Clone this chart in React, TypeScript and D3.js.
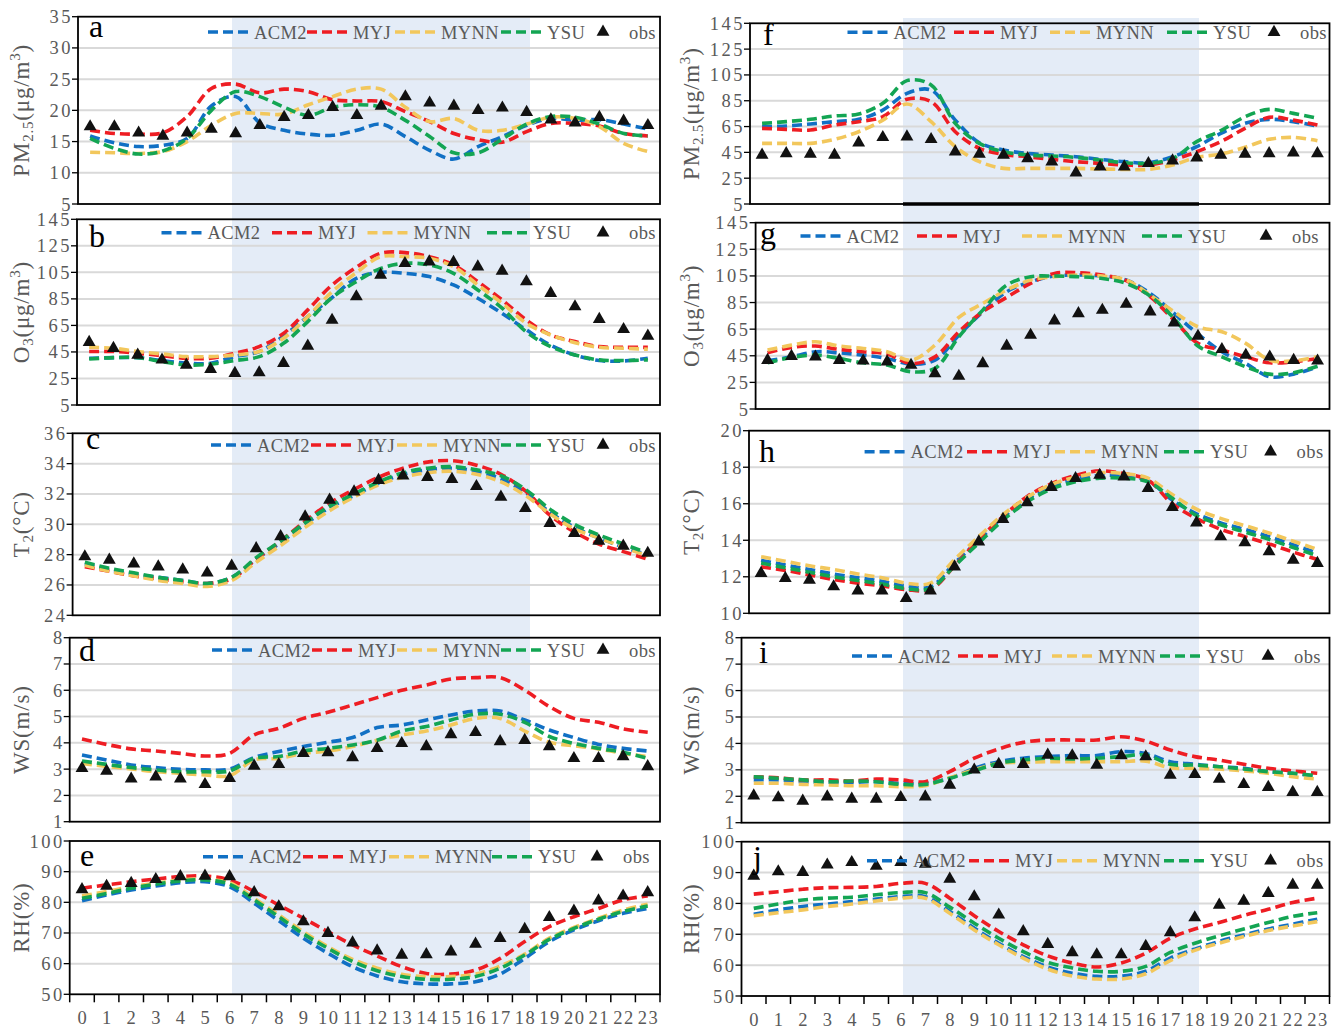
import React from 'react';
import * as d3 from 'd3';

// ---------- categories & ticks ----------
const hours = ['0','1','2','3','4','5','6','7','8','9','10','11','12','13','14','15','16','17','18','19','20','21','22','23'];
const seriesNames = ['ACM2', 'MYJ', 'MYNN', 'YSU'];
const obsName = 'obs';
const panelLetters = ['a','b','c','d','e','f','g','h','i','j'];

const pmTicks = [5, 10, 15, 20, 25, 30, 35];
const o3Ticks = [5, 25, 45, 65, 85, 105, 125, 145];
const t2TicksSummer = [24, 26, 28, 30, 32, 34, 36];
const t2TicksWinter = [10, 12, 14, 16, 18, 20];
const wsTicks = [1, 2, 3, 4, 5, 6, 7, 8];
const rhTicks = [50, 60, 70, 80, 90, 100];

// ---------- panel a: PM2.5 ----------
const aACM2 = [15.9,14.8,14.2,14.4,15.5,20.7,22.2,18.0,16.8,16.2,16.0,16.8,17.8,15.8,13.6,12.2,14.2,15.8,17.6,18.7,18.4,18.5,17.8,17.0];
const aMYJ  = [16.8,16.3,16.2,16.4,19.0,23.5,24.2,22.8,23.4,23.0,21.7,21.5,21.4,19.8,18.2,16.3,15.3,14.9,16.6,17.9,17.9,17.5,16.3,15.9];
const aMYNN = [13.3,13.2,13.1,13.4,15.0,17.6,19.5,19.5,19.4,20.9,22.2,23.4,23.4,20.5,18.2,18.7,16.8,16.8,17.8,18.9,18.7,17.4,14.7,13.4];
const aYSU  = [15.5,13.9,13.0,13.5,15.5,20.0,23.0,22.2,20.5,19.2,20.5,20.9,20.5,18.4,15.8,13.2,13.2,15.4,17.8,19.0,18.9,17.8,16.3,15.9];
const aObs  = [17.4,17.4,16.4,15.9,16.4,17.0,16.3,17.6,18.9,19.2,20.5,19.2,20.7,22.2,21.2,20.7,20.0,20.4,19.7,18.5,18.0,18.9,18.3,17.6];

// ---------- panel b: O3 ----------
const bACM2 = [40.2,40.7,40.7,38.5,36.5,36.5,41.5,45.3,57.0,71.6,86.0,100.5,105.0,104.3,101.8,95.5,85.5,74.0,61.6,50.0,42.7,38.5,38.2,40.2];
const bMYJ  = [45.3,45.3,44.0,42.2,40.2,40.2,44.0,49.0,59.0,76.7,95.5,108.8,119.4,119.9,116.8,110.6,98.0,84.2,69.0,57.8,52.8,49.0,48.5,48.5];
const bMYNN = [48.5,47.8,45.3,43.5,41.5,41.5,42.7,45.3,55.3,71.6,90.4,104.8,116.8,116.8,115.6,109.3,95.5,81.7,66.6,57.8,52.0,48.5,47.8,47.0];
const bYSU  = [39.7,40.7,40.7,37.7,35.2,35.7,38.5,41.5,51.5,67.9,86.0,98.0,108.0,111.8,110.6,104.3,91.7,78.0,60.0,49.0,42.7,39.0,38.5,39.0];
const bObs  = [52.3,47.8,42.7,39.0,35.2,32.0,29.0,29.4,36.5,49.5,69.0,86.7,103.0,111.8,113.0,112.6,109.3,106.0,98.0,89.2,79.2,69.6,62.0,57.0];

// ---------- panel c: T2 ----------
const cACM2 = [27.4,27.0,26.7,26.5,26.3,26.1,26.5,27.7,28.8,30.0,31.1,31.9,32.7,33.3,33.6,33.7,33.5,33.0,32.1,30.8,29.8,29.1,28.5,28.0];
const cMYJ  = [27.2,26.9,26.6,26.4,26.2,26.1,26.4,27.7,28.9,30.2,31.4,32.3,33.1,33.7,34.1,34.2,33.9,33.3,32.2,30.6,29.5,28.7,28.2,27.7];
const cMYNN = [27.3,26.9,26.6,26.3,26.1,25.9,26.3,27.5,28.6,29.8,30.9,31.8,32.6,33.1,33.4,33.5,33.3,32.8,31.9,30.7,29.7,29.1,28.5,27.9];
const cYSU  = [27.5,27.1,26.8,26.5,26.3,26.1,26.5,27.8,28.9,30.1,31.2,32.0,32.8,33.4,33.7,33.8,33.6,33.2,32.3,31.0,30.0,29.3,28.7,28.1];
const cObs  = [27.87,27.65,27.4,27.2,27.0,26.8,27.25,28.4,29.2,30.5,31.6,32.15,32.9,33.2,33.1,32.97,32.5,31.8,31.05,30.07,29.4,28.9,28.57,28.1];

// ---------- panel d: WS ----------
const dACM2 = [3.54,3.35,3.16,3.06,2.99,2.97,3.0,3.44,3.67,3.86,4.02,4.2,4.58,4.68,4.87,5.06,5.21,5.21,4.87,4.49,4.2,3.94,3.79,3.69];
const dMYJ  = [4.15,3.94,3.77,3.69,3.6,3.5,3.6,4.3,4.55,4.93,5.16,5.44,5.72,6.0,6.2,6.43,6.48,6.48,6.0,5.38,4.93,4.78,4.53,4.4];
const dMYNN = [3.22,3.1,3.01,2.9,2.84,2.78,2.75,3.35,3.41,3.6,3.69,3.86,4.1,4.3,4.45,4.68,4.93,4.93,4.45,4.02,3.89,3.77,3.6,3.48];
const dYSU  = [3.31,3.18,3.06,2.97,2.9,2.9,2.93,3.41,3.48,3.69,3.79,3.92,4.1,4.45,4.62,4.87,5.09,5.09,4.78,4.24,3.98,3.79,3.64,3.41];
const dObs  = [3.03,2.93,2.63,2.71,2.63,2.42,2.65,3.12,3.18,3.6,3.63,3.44,3.79,3.98,3.86,4.32,4.4,4.05,4.1,3.86,3.41,3.41,3.48,3.1];

// ---------- panel e: RH ----------
const eACM2 = [80.5,82.4,84.0,85.3,86.4,86.7,85.1,79.7,74.0,68.3,63.4,59.0,56.0,54.1,53.4,53.4,54.1,56.6,61.7,67.2,71.0,74.0,76.4,78.0];
const eMYJ  = [84.6,85.7,86.7,87.6,88.4,88.6,87.3,83.5,79.1,74.8,70.4,66.1,62.5,59.0,56.8,56.6,57.9,61.7,67.2,72.1,75.3,78.0,80.8,82.1];
const eMYNN = [82.1,83.5,85.1,86.2,87.3,87.5,86.4,81.3,75.9,70.4,65.5,61.4,58.5,56.5,55.8,55.8,56.6,59.2,63.1,68.3,71.8,74.8,77.5,79.4];
const eYSU  = [81.3,82.9,84.6,85.9,87.0,87.3,85.9,80.8,75.3,69.7,65.0,60.7,57.7,55.8,54.9,54.9,55.8,58.5,62.8,67.9,71.5,74.5,77.0,78.8];
const eObs  = [84.2,85.3,86.2,87.5,88.4,88.6,88.4,83.2,78.6,73.7,69.9,66.8,64.2,62.8,63.0,63.9,66.4,68.3,71.2,75.1,77.2,80.5,82.1,83.2];

// ---------- panel f: PM2.5 ----------
const fACM2 = [64.9,65.4,67.0,68.8,70.6,77.8,90.7,93.3,70.0,52.5,46.8,44.2,43.0,41.6,39.6,37.8,37.0,41.6,49.4,59.7,67.5,70.6,68.8,65.4];
const fMYJ  = [63.6,62.8,62.3,66.2,68.8,72.6,86.1,84.3,61.0,48.1,43.4,41.6,39.6,37.8,36.5,35.2,35.2,39.1,45.5,53.3,63.6,72.1,70.0,66.2];
const fMYNN = [52.0,52.0,52.0,55.1,61.0,70.0,82.5,68.8,49.4,37.8,32.6,32.6,32.6,32.6,32.1,31.8,31.8,35.2,41.1,43.7,48.9,55.1,56.6,54.0];
const fYSU  = [67.5,68.8,70.6,73.2,74.7,83.0,100.6,97.2,67.5,52.0,45.5,43.0,42.2,41.1,39.1,37.0,36.5,40.3,53.3,61.8,72.6,78.3,75.2,71.4];
const fObs  = [43.0,44.2,43.7,43.0,52.5,56.6,57.1,55.1,45.5,43.7,43.0,40.3,37.8,29.2,33.9,33.9,36.5,38.5,40.9,43.0,43.7,44.2,44.7,44.2];

// ---------- panel g: O3 ----------
const gACM2 = [41.2,44.2,48.0,47.2,45.5,43.0,38.7,41.7,60.5,78.1,93.1,100.6,104.9,105.7,104.9,101.9,91.9,76.8,61.3,48.0,39.2,29.2,31.2,36.7];
const gMYJ  = [47.2,51.3,52.3,49.8,48.0,46.3,39.2,44.2,63.0,78.1,88.9,99.4,106.9,107.4,105.7,101.4,89.4,71.8,54.3,49.3,44.2,39.7,40.5,43.0];
const gMYNN = [49.3,53.0,55.5,52.3,50.5,48.0,41.7,53.0,73.8,84.3,94.4,101.9,104.4,105.7,104.9,101.9,90.6,78.0,66.8,63.0,54.3,41.7,41.2,44.2];
const gYSU  = [39.7,43.7,45.5,43.0,39.7,38.0,33.0,35.5,59.3,79.3,98.1,104.4,104.9,104.4,103.1,99.4,89.9,73.1,52.3,44.2,36.7,31.2,32.2,37.2];
const gObs  = [41.7,44.7,44.2,41.7,41.2,40.5,38.0,31.7,29.7,39.2,52.3,60.5,71.3,76.8,79.3,83.8,78.1,69.8,59.8,49.8,45.5,44.2,41.7,41.2];

// ---------- panel h: T2 ----------
const hACM2 = [12.9,12.65,12.4,12.15,11.95,11.75,11.5,11.45,12.75,14.0,15.25,16.25,16.95,17.35,17.55,17.5,17.25,16.2,15.45,14.95,14.6,14.2,13.75,13.3];
const hMYJ  = [12.55,12.35,12.1,11.85,11.65,11.5,11.3,11.3,12.6,14.05,15.3,16.4,17.1,17.55,17.8,17.65,17.3,16.0,15.2,14.6,14.2,13.8,13.35,12.95];
const hMYNN = [13.1,12.85,12.6,12.4,12.15,11.95,11.65,11.65,12.95,14.2,15.4,16.35,17.05,17.45,17.7,17.65,17.4,16.5,15.7,15.2,14.8,14.4,13.95,13.5];
const hYSU  = [12.75,12.5,12.25,12.0,11.8,11.6,11.35,11.35,12.6,13.85,15.1,16.1,16.8,17.2,17.4,17.4,17.2,16.3,15.35,14.85,14.45,14.05,13.6,13.15];
const hObs  = [12.19,11.92,11.82,11.46,11.24,11.24,10.82,11.24,12.55,13.92,15.15,16.06,16.9,17.39,17.57,17.48,16.84,15.8,14.96,14.2,13.87,13.38,12.92,12.74];

// ---------- panel i: WS ----------
const iACM2 = [2.62,2.62,2.55,2.53,2.53,2.55,2.49,2.49,2.68,3.06,3.31,3.44,3.5,3.54,3.54,3.69,3.62,3.31,3.21,3.12,3.06,2.93,2.87,2.74];
const iMYJ  = [2.74,2.7,2.62,2.62,2.58,2.65,2.62,2.55,2.93,3.44,3.79,4.04,4.13,4.13,4.13,4.25,4.09,3.75,3.5,3.37,3.21,3.06,2.96,2.87];
const iMYNN = [2.49,2.49,2.45,2.43,2.4,2.4,2.36,2.4,2.7,3.0,3.25,3.28,3.31,3.31,3.31,3.31,3.33,3.08,3.06,3.03,2.96,2.87,2.74,2.65];
const iYSU  = [2.74,2.68,2.62,2.55,2.58,2.55,2.45,2.45,2.68,2.96,3.25,3.37,3.44,3.41,3.44,3.5,3.56,3.21,3.18,3.12,3.03,2.93,2.87,2.78];
const iObs  = [2.02,1.95,1.82,1.98,1.9,1.9,1.96,1.98,2.43,3.0,3.21,3.21,3.56,3.54,3.18,3.54,3.5,2.8,2.83,2.65,2.45,2.34,2.15,2.15];

// ---------- panel j: RH ----------
const jACM2 = [76.5,77.9,79.0,79.8,80.6,81.4,82.2,82.2,77.4,72.0,67.1,62.8,59.4,57.4,56.4,56.4,58.0,62.3,65.2,67.7,69.8,71.7,73.3,74.9];
const jMYJ  = [83.0,83.8,84.6,85.1,85.2,85.5,86.5,86.5,81.7,76.0,70.9,66.6,63.0,60.7,59.4,60.7,63.9,68.7,71.7,73.8,76.1,78.1,80.3,81.7];
const jMYNN = [76.0,77.0,77.9,79.0,79.8,80.8,81.7,81.7,76.8,71.4,66.6,62.3,58.7,56.5,55.5,55.5,57.2,61.5,64.8,67.1,69.3,71.2,72.7,74.1];
const jYSU  = [78.4,79.8,81.1,81.7,82.0,82.8,83.5,83.5,78.8,73.6,68.7,64.4,60.9,59.1,58.0,58.0,59.6,64.1,67.1,69.5,71.7,73.8,75.8,77.0];
const jObs  = [88.9,90.3,90.1,92.5,93.3,92.1,93.3,92.8,87.9,82.2,76.3,70.9,66.8,64.1,63.4,63.4,66.1,70.6,75.4,79.5,80.8,83.3,86.0,86.0];

// ---------- styles ----------
const seriesColors = ['#1170C4', '#EE1D23', '#F2C75C', '#13A553'];
const FONT = '"Liberation Serif", "Times New Roman", Times, "DejaVu Serif", serif';
const GRAY = '#595959';
const BAND_FILL = '#E4ECF7';

type Var = 'pm' | 'o3' | 't2' | 'ws' | 'rh';

interface PanelCfg {
  letter: string;
  variable: Var;
  ticks: number[];
  series: number[][];
  obs: number[];
  box: [number, number, number, number]; // left, right, top, bottom
  letterPos: [number, number];
  legendY: number;
  legendX: number[]; // 4 dash starts, triangle centre
  xLabels: boolean;
  titleX: number;
}

const panels: PanelCfg[] = [
  { letter: panelLetters[0], variable: 'pm', ticks: pmTicks, series: [aACM2, aMYJ, aMYNN, aYSU], obs: aObs,
    box: [78, 660, 16.7, 204], letterPos: [89, 37], legendY: 32, legendX: [208, 307, 395, 501, 603], xLabels: false, titleX: 29 },
  { letter: panelLetters[1], variable: 'o3', ticks: o3Ticks, series: [bACM2, bMYJ, bMYNN, bYSU], obs: bObs,
    box: [77, 660, 219.3, 405], letterPos: [89, 246.5], legendY: 232.7, legendX: [161.5, 272, 367.5, 487, 603], xLabels: false, titleX: 29 },
  { letter: panelLetters[2], variable: 't2', ticks: t2TicksSummer, series: [cACM2, cMYJ, cMYNN, cYSU], obs: cObs,
    box: [72.6, 660, 433.3, 615.3], letterPos: [86, 449], legendY: 445, legendX: [211, 311, 397, 501, 603], xLabels: false, titleX: 29 },
  { letter: panelLetters[3], variable: 'ws', ticks: wsTicks, series: [dACM2, dMYJ, dMYNN, dYSU], obs: dObs,
    box: [69.7, 660, 637.7, 821.7], letterPos: [79, 661], legendY: 650, legendX: [212, 312, 397, 501, 603], xLabels: false, titleX: 29 },
  { letter: panelLetters[4], variable: 'rh', ticks: rhTicks, series: [eACM2, eMYJ, eMYNN, eYSU], obs: eObs,
    box: [69.7, 660, 841, 994.3], letterPos: [80, 866], legendY: 856.7, legendX: [203, 303, 389, 492, 597], xLabels: true, titleX: 29 },
  { letter: panelLetters[5], variable: 'pm', ticks: o3Ticks, series: [fACM2, fMYJ, fMYNN, fYSU], obs: fObs,
    box: [750, 1329.5, 23.3, 204], letterPos: [763, 45], legendY: 32.3, legendX: [847.5, 954, 1050, 1167, 1274], xLabels: false, titleX: 699 },
  { letter: panelLetters[6], variable: 'o3', ticks: o3Ticks, series: [gACM2, gMYJ, gMYNN, gYSU], obs: gObs,
    box: [755.6, 1329.5, 222.7, 409], letterPos: [760, 244], legendY: 236, legendX: [800.5, 917, 1022, 1142, 1266], xLabels: false, titleX: 699 },
  { letter: panelLetters[7], variable: 't2', ticks: t2TicksWinter, series: [hACM2, hMYJ, hMYNN, hYSU], obs: hObs,
    box: [749, 1329.5, 430.7, 613.3], letterPos: [759, 462], legendY: 451.7, legendX: [864.6, 967, 1055, 1164, 1270.6], xLabels: false, titleX: 699 },
  { letter: panelLetters[8], variable: 'ws', ticks: wsTicks, series: [iACM2, iMYJ, iMYNN, iYSU], obs: iObs,
    box: [741.5, 1329.5, 637.7, 822.7], letterPos: [759, 663], legendY: 656, legendX: [852, 958, 1052, 1160, 1268], xLabels: false, titleX: 699 },
  { letter: panelLetters[9], variable: 'rh', ticks: rhTicks, series: [jACM2, jMYJ, jMYNN, jYSU], obs: jObs,
    box: [741.5, 1329.5, 841.7, 996], letterPos: [753, 868], legendY: 860.7, legendX: [867, 969, 1057, 1164, 1270.6], xLabels: true, titleX: 699 },
];

const bandsX: [number, number][] = [[232, 530], [903, 1199]];
const bandY: [number, number] = [18, 995];

function Title({ variable, x, y }: { variable: Var; x: number; y: number }) {
  const common = {
    transform: `translate(${x},${y}) rotate(-90)`,
    textAnchor: 'middle' as const,
    fontFamily: FONT,
    fontSize: 23,
    fill: GRAY,
    letterSpacing: 0.8,
  };
  if (variable === 'pm')
    return (
      <text {...common}>
        PM<tspan fontSize={15} dy={4}>2.5</tspan><tspan dy={-4}>(μg/m</tspan>
        <tspan fontSize={15} dy={-9}>3</tspan><tspan dy={9}>)</tspan>
      </text>
    );
  if (variable === 'o3')
    return (
      <text {...common}>
        O<tspan fontSize={15} dy={4}>3</tspan><tspan dy={-4}>(μg/m</tspan>
        <tspan fontSize={15} dy={-9}>3</tspan><tspan dy={9}>)</tspan>
      </text>
    );
  if (variable === 't2')
    return (
      <text {...common}>
        T<tspan fontSize={15} dy={4}>2</tspan><tspan dy={-4}>(°C)</tspan>
      </text>
    );
  if (variable === 'ws') return <text {...common}>WS(m/s)</text>;
  return <text {...common}>RH(%)</text>;
}

const triPath = d3.symbol().type(d3.symbolTriangle).size(72)() as string;

function Panel({ cfg }: { cfg: PanelCfg }) {
  const [left, right, top, bottom] = cfg.box;
  const domain: [number, number] = [cfg.ticks[0], cfg.ticks[cfg.ticks.length - 1]];
  const x = d3.scaleBand<string>().domain(hours).range([left, right]).padding(0);
  const y = d3.scaleLinear().domain(domain).range([bottom, top]);
  const cx = (i: number) => (x(hours[i]) as number) + x.bandwidth() / 2;
  const line = d3
    .line<number>()
    .x((_, i) => cx(i))
    .y((v) => y(v))
    .curve(d3.curveCatmullRom.alpha(0.5));

  const dash = '10,5';
  return (
    <g>
      {/* gridlines */}
      {cfg.ticks
        .filter((t) => t !== domain[0] && t !== domain[1])
        .map((t) => (
          <line key={'g' + t} x1={left} x2={right} y1={y(t)} y2={y(t)} stroke="#D9D9D9" strokeWidth={2} />
        ))}
      {/* y ticks & labels */}
      {cfg.ticks.map((t) => (
        <g key={'t' + t}>
          <line x1={left - 6} x2={left} y1={y(t)} y2={y(t)} stroke="#000" strokeWidth={1.3} />
          <text
            x={left - 5}
            y={y(t) + 6.5}
            textAnchor="end"
            fontFamily={FONT}
            fontSize={18.5}
            letterSpacing={2.5}
            fill={GRAY}
          >
            {t}
          </text>
        </g>
      ))}
      {/* x axis labels */}
      {cfg.xLabels &&
        hours.map((h, i) => (
          <text key={'x' + h} x={cx(i) + 0.8} y={bottom + 29.5} textAnchor="middle" fontFamily={FONT} fontSize={18.5} letterSpacing={1.5} fill={GRAY}>
            {h}
          </text>
        ))}
      {cfg.xLabels &&
        d3.range(25).map((k) => {
          const xx = left + k * x.bandwidth();
          return <line key={'xt' + k} x1={xx} x2={xx} y1={bottom} y2={bottom + 8} stroke="#000" strokeWidth={1.5} />;
        })}
      {/* border */}
      <rect x={left} y={top} width={right - left} height={bottom - top} fill="none" stroke="#000" strokeWidth={1.8} />
      {/* model lines */}
      {cfg.series.map((s, k) => (
        <path
          key={'s' + k}
          d={line(s) as string}
          fill="none"
          stroke={seriesColors[k]}
          strokeWidth={3.6}
          strokeDasharray={dash}
        />
      ))}
      {/* obs */}
      {cfg.obs.map((v, i) => (
        <path key={'o' + i} d={triPath} transform={`translate(${cx(i)},${y(v)})`} fill="#111" />
      ))}
      {/* legend */}
      {seriesNames.map((name, k) => (
        <g key={'l' + name}>
          <line
            x1={cfg.legendX[k]}
            x2={cfg.legendX[k] + 41}
            y1={cfg.legendY}
            y2={cfg.legendY}
            stroke={seriesColors[k]}
            strokeWidth={3.6}
            strokeDasharray={dash}
          />
          <text x={cfg.legendX[k] + 46} y={cfg.legendY + 6.5} fontFamily={FONT} fontSize={18.5} letterSpacing={0.4} fill={GRAY}>
            {name}
          </text>
        </g>
      ))}
      <path d={triPath} transform={`translate(${cfg.legendX[4]},${cfg.legendY})`} fill="#111" />
      <text x={cfg.legendX[4] + 26} y={cfg.legendY + 6.5} fontFamily={FONT} fontSize={18.5} letterSpacing={0.4} fill={GRAY}>
        {obsName}
      </text>
      {/* panel letter */}
      <text x={cfg.letterPos[0]} y={cfg.letterPos[1]} fontFamily={FONT} fontSize={32} fill="#000">
        {cfg.letter}
      </text>
      {/* axis title */}
      <Title variable={cfg.variable} x={cfg.titleX} y={(top + bottom) / 2} />
    </g>
  );
}

export default function App() {
  return (
    <svg
      width={1338}
      height={1031}
      style={{ position: 'absolute', left: 0, top: 0, background: '#fff' }}
      xmlns="http://www.w3.org/2000/svg"
    >
      <rect x={0} y={0} width={1338} height={1031} fill="#fff" />
      {bandsX.map(([x0, x1], k) => (
        <rect key={'band' + k} x={x0} y={bandY[0]} width={x1 - x0} height={bandY[1] - bandY[0]} fill={BAND_FILL} />
      ))}
      {panels.map((p) => (
        <Panel key={p.letter} cfg={p} />
      ))}
      <line x1={bandsX[1][0]} x2={bandsX[1][1]} y1={204} y2={204} stroke="#000" strokeWidth={3.5} />
    </svg>
  );
}
